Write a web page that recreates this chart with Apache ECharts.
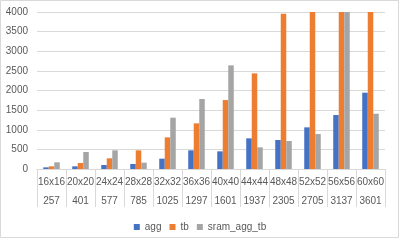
<!DOCTYPE html>
<html>
<head>
<meta charset="utf-8">
<script src="https://cdn.jsdelivr.net/npm/echarts@6/dist/echarts.min.js"></script>
<style>
html,body{margin:0;padding:0;background:#fff;}
#c{width:400px;height:240px;}
</style>
</head>
<body>
<div id="c"></div>
<script>
var sizes = ['16x16','20x20','24x24','28x28','32x32','36x36','40x40','44x44','48x48','52x52','56x56','60x60'];
var counts = ['257','401','577','785','1025','1297','1601','1937','2305','2705','3137','3601'];
var aggValues = [42, 68, 102, 127, 263, 475, 450, 781, 739, 1061, 1375, 1944];
var tbValues = [68, 153, 272, 475, 806, 1163, 1757, 2436, 3956, 4000, 4000, 4000];
var sramValues = [170, 433, 475, 161, 1307, 1783, 2640, 552, 713, 891, 4000, 1409];
var yTicks = [0, 500, 1000, 1500, 2000, 2500, 3000, 3500, 4000];

var categories = sizes.map(function(s, i){ return s + '|' + counts[i]; });
var textColor = '#595959';
var font = 'Liberation Sans';

var chart = echarts.init(document.getElementById('c'), null, {renderer:'canvas'});
chart.setOption({
  animation: false,
  backgroundColor: '#ffffff',
  textStyle: {fontFamily: font},
  graphic: [{
    type: 'rect',
    shape: {x: 0.5, y: 0.5, width: 398, height: 237},
    style: {fill: 'none', stroke: '#D9D9D9', lineWidth: 1},
    silent: true
  }],
  grid: {left: 37, right: 15, top: 12, bottom: 71, containLabel: false},
  legend: {
    left: 'center',
    top: 217,
    icon: 'rect',
    itemWidth: 6,
    itemHeight: 6,
    itemGap: 8,
    textStyle: {color: textColor, fontSize: 10, fontFamily: font},
    data: ['agg', 'tb', 'sram_agg_tb']
  },
  xAxis: {
    type: 'category',
    data: categories,
    axisLine: {show: true, lineStyle: {color: '#D9D9D9'}},
    axisTick: {show: true, interval: 0, length: 38, lineStyle: {color: '#D9D9D9'}},
    axisLabel: {
      interval: 0,
      margin: 4,
      formatter: function(v){
        var p = v.split('|');
        return '{a|' + p[0] + '}\n{b|' + p[1] + '}';
      },
      rich: {
        a: {color: textColor, fontSize: 10, lineHeight: 19, fontFamily: font},
        b: {color: textColor, fontSize: 10, lineHeight: 19, fontFamily: font}
      }
    }
  },
  yAxis: {
    type: 'value',
    min: yTicks[0],
    max: yTicks[yTicks.length - 1],
    interval: yTicks[1] - yTicks[0],
    axisLine: {show: false},
    axisTick: {show: false},
    axisLabel: {color: textColor, fontSize: 10, margin: 9, fontFamily: font, formatter: function(v){ return String(v); }},
    splitLine: {lineStyle: {color: '#D9D9D9'}}
  },
  series: [
    {name: 'agg', type: 'bar', data: aggValues, barGap: '0%', barCategoryGap: '43%', itemStyle: {color: '#4472C4'}},
    {name: 'tb', type: 'bar', data: tbValues, barGap: '0%', barCategoryGap: '43%', itemStyle: {color: '#ED7D31'}},
    {name: 'sram_agg_tb', type: 'bar', data: sramValues, barGap: '0%', barCategoryGap: '43%', itemStyle: {color: '#A5A5A5'}}
  ]
});
</script>
</body>
</html>
